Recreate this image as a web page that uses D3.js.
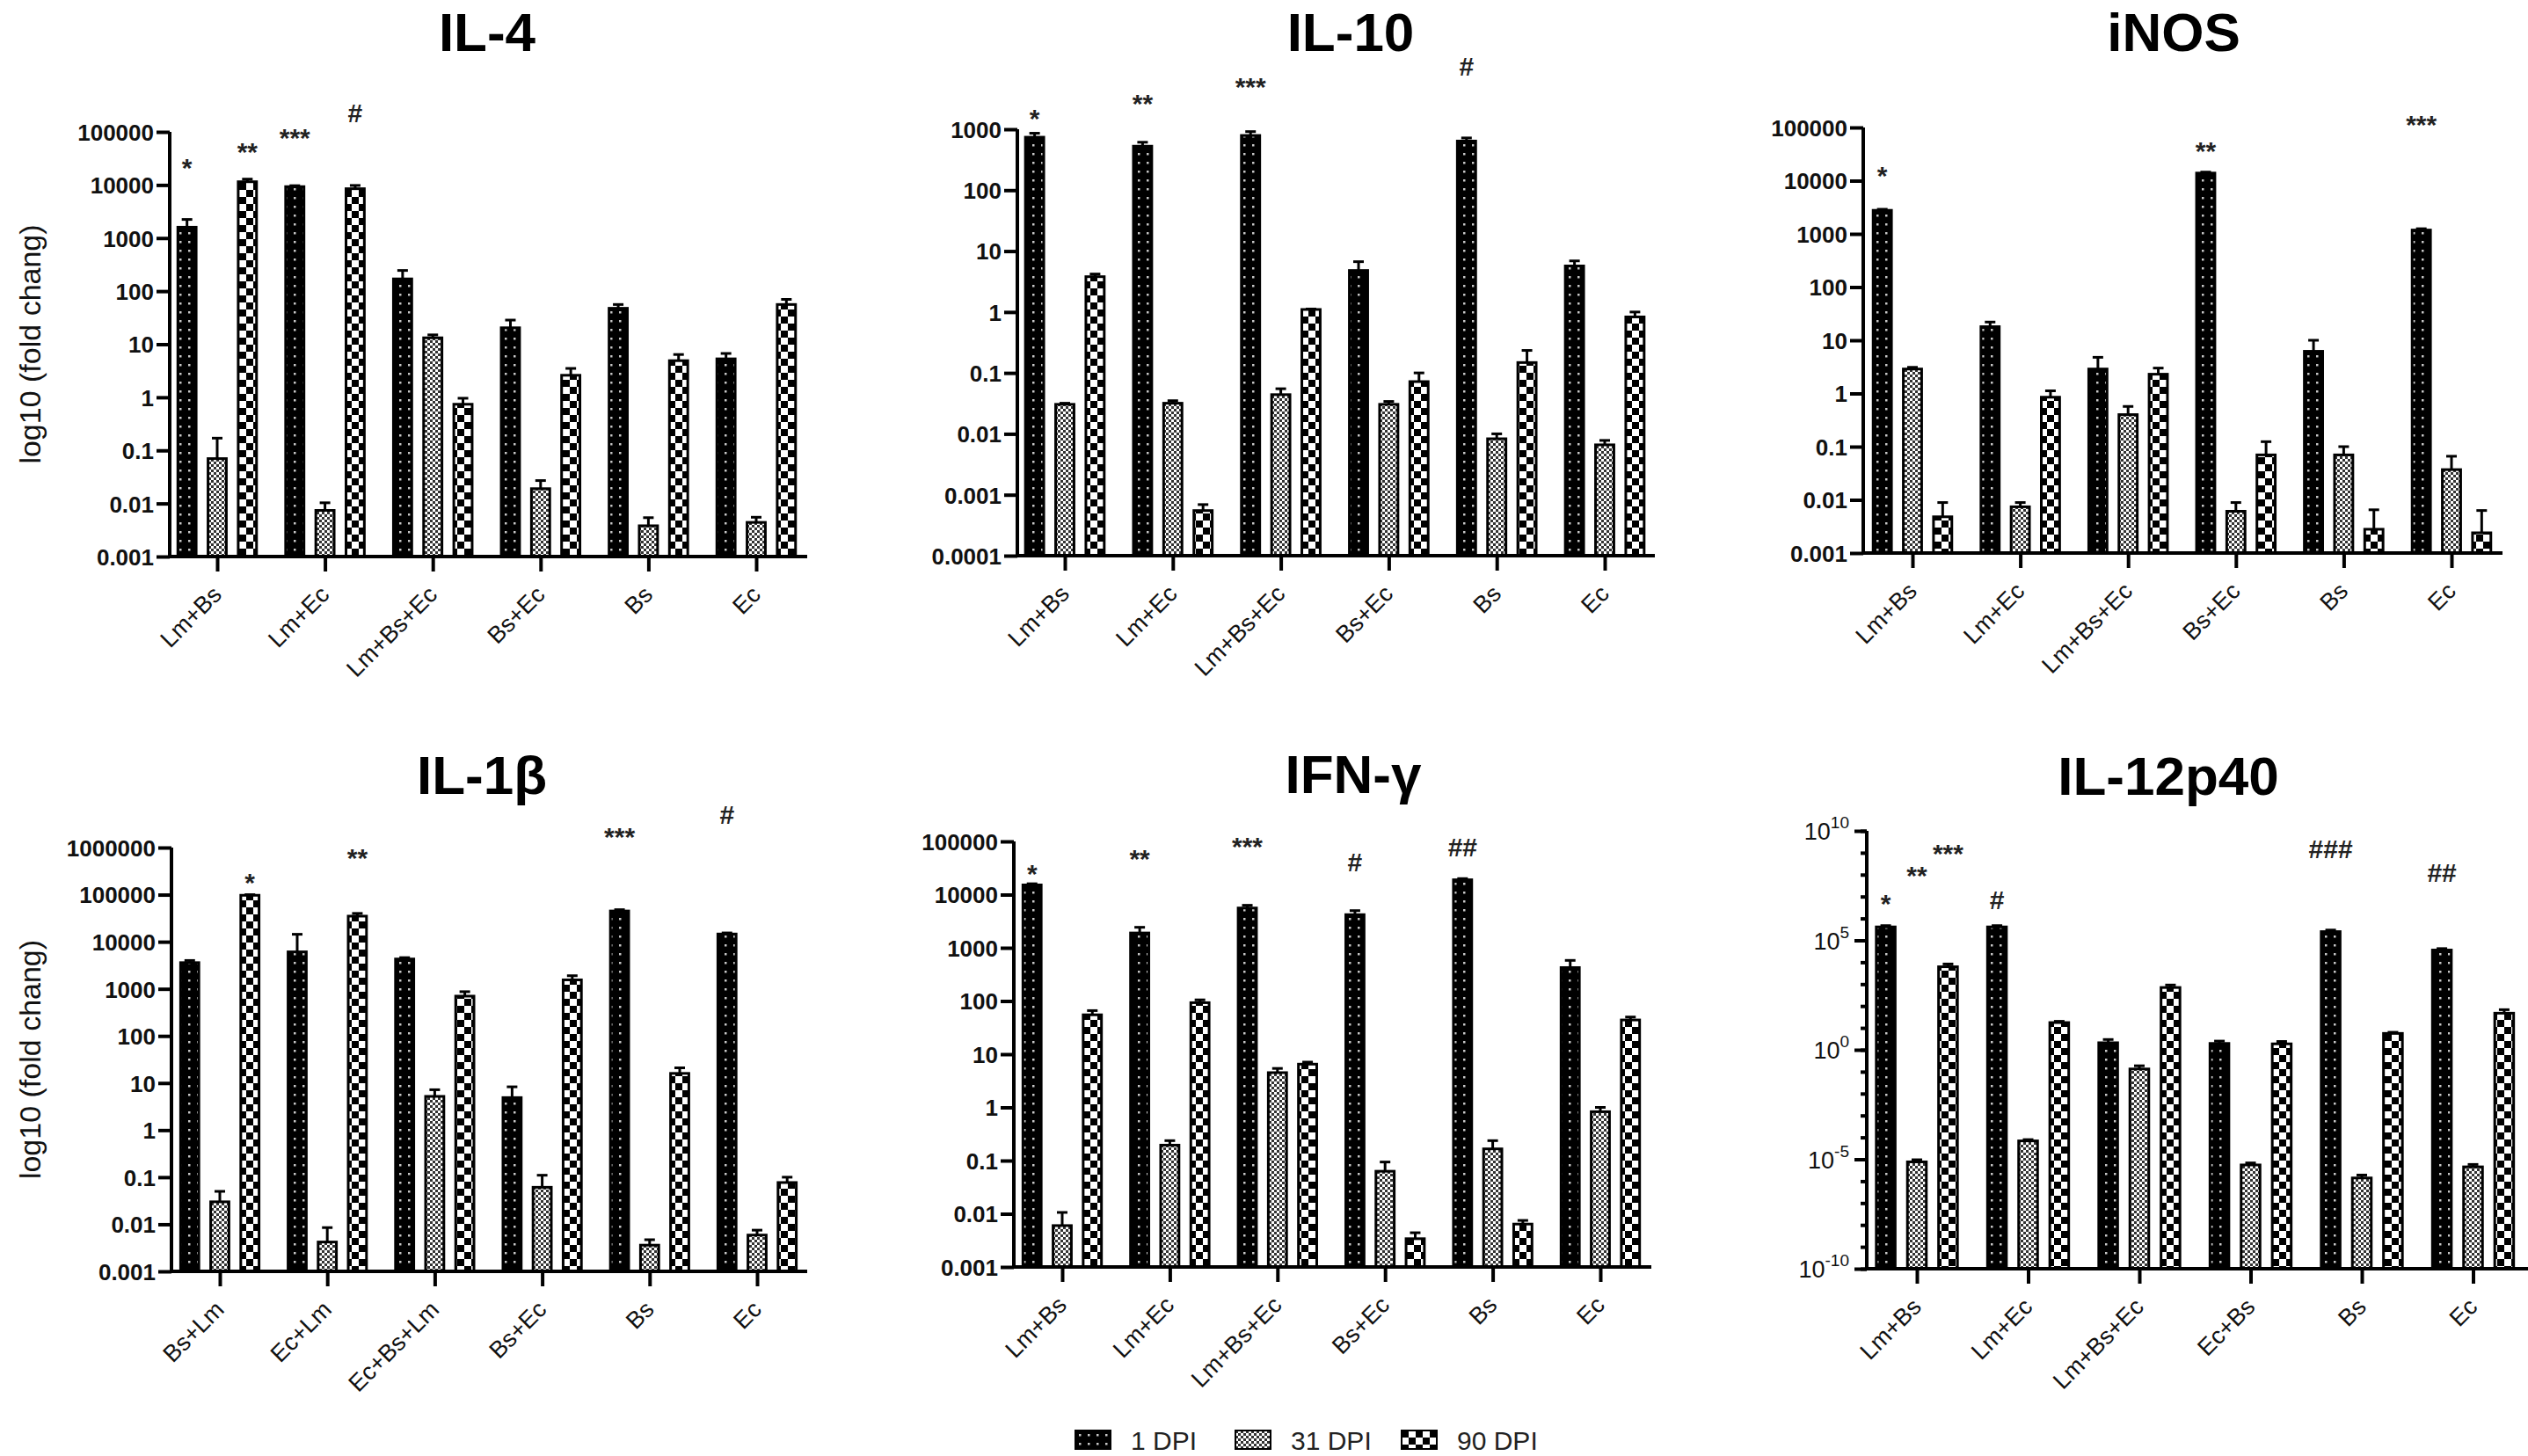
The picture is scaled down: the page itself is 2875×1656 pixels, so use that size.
<!DOCTYPE html>
<html>
<head>
<meta charset="utf-8">
<script src="https://cdn.jsdelivr.net/npm/d3@7"></script>
<style>
  body { margin: 0; background: #fff; }
  text { font-family: "Liberation Sans", Arial, sans-serif; fill: #111; }
</style>
</head>
<body>
<svg id="chart"></svg>
<script>
// ---- data ----
const seriesNames = ["1 DPI", "31 DPI", "90 DPI"];

const catsA    = ["Lm+Bs", "Lm+Ec", "Lm+Bs+Ec", "Bs+Ec", "Bs", "Ec"];
const catsIL1b = ["Bs+Lm", "Ec+Lm", "Ec+Bs+Lm", "Bs+Ec", "Bs", "Ec"];
const catsIL12 = ["Lm+Bs", "Lm+Ec", "Lm+Bs+Ec", "Ec+Bs", "Bs", "Ec"];

// means per series [1 DPI, 31 DPI, 90 DPI], and SD (upper error bar)
const il4Mean = [[1600, 9300, 170, 20.4, 47.5, 5.3],
                 [0.07, 0.0074, 13.2, 0.019, 0.0038, 0.0044],
                 [11500, 8500, 0.74, 2.6, 4.9, 56]];
const il4Sd   = [[640, 400, 75, 8.1, 8.5, 1.4],
                 [0.1, 0.0029, 1.8, 0.008, 0.0016, 0.0011],
                 [1400, 1300, 0.22, 0.9, 1.5, 14]];

const il10Mean = [[740, 527, 790, 4.8, 640, 5.7],
                  [0.0305, 0.0318, 0.044, 0.0305, 0.0083, 0.0066],
                  [3.8, 0.00055, 1.1, 0.072, 0.148, 0.83]];
const il10Sd   = [[120, 85, 125, 1.9, 80, 1.2],
                  [0.0013, 0.0032, 0.011, 0.0035, 0.0017, 0.0012],
                  [0.4, 0.00014, 0.02, 0.028, 0.086, 0.17]];

const inosMean = [[2770, 18, 2.88, 13900, 6.2, 1180],
                  [2.88, 0.0074, 0.4, 0.0061, 0.07, 0.037],
                  [0.0048, 0.85, 2.3, 0.07, 0.0028, 0.0024]];
const inosSd   = [[130, 4, 1.9, 600, 3.8, 70],
                  [0.22, 0.0015, 0.17, 0.0028, 0.03, 0.029],
                  [0.0041, 0.27, 0.7, 0.054, 0.0037, 0.0039]];

const il1bMean = [[3600, 6100, 4300, 4.9, 45000, 14600],
                  [0.03, 0.0042, 5.2, 0.061, 0.0036, 0.0059],
                  [97000, 35000, 700, 1550, 16, 0.077]];
const il1bSd   = [[400, 8300, 300, 3.4, 3000, 800],
                  [0.02, 0.0043, 2.0, 0.049, 0.0011, 0.0016],
                  [3000, 5000, 170, 350, 5, 0.023]];

const ifngMean = [[15200, 1900, 5600, 4200, 19000, 425],
                  [0.006, 0.195, 4.5, 0.063, 0.166, 0.83],
                  [55, 93, 6.5, 0.0034, 0.0064, 44]];
const ifngSd   = [[800, 530, 700, 800, 1000, 155],
                  [0.0046, 0.042, 0.9, 0.031, 0.071, 0.17],
                  [11, 12, 0.6, 0.001, 0.0011, 6]];

const il12Mean = [[4.1e5, 4.1e5, 2.1, 1.95, 2.5e5, 3.6e4],
                  [7.6e-6, 6.9e-5, 0.133, 5.5e-6, 1.4e-6, 4.5e-6],
                  [6200, 17.5, 700, 1.87, 5.6, 47]];
const il12Sd   = [[6e4, 6e4, 0.85, 0.55, 4.5e4, 6e3],
                  [1.9e-6, 1e-5, 0.053, 1.3e-6, 5e-7, 1.3e-6],
                  [2100, 2.5, 210, 0.53, 0.7, 21]];

// significance marks: [label, category index, series index, value level]
const il4Marks  = [["*", 0, 0, 2.8e4], ["**", 0, 2, 5.5e4], ["***", 1, 0, 1e5], ["#", 1, 2, 2.3e5]];
const il10Marks = [["*", 0, 0, 1900], ["**", 1, 0, 3300], ["***", 2, 0, 6200], ["#", 4, 0, 10700]];
const inosMarks = [["*", 0, 0, 1.66e4], ["**", 3, 0, 4.8e4], ["***", 5, 0, 1.5e5]];
const il1bMarks = [["*", 0, 2, 2.5e5], ["**", 1, 2, 8.1e5], ["***", 4, 0, 2.3e6], ["#", 5, 0, 5e6]];
const ifngMarks = [["*", 0, 0, 3.2e4], ["**", 1, 0, 6.3e4], ["***", 2, 0, 1.05e5], ["#", 3, 0, 4.2e4], ["##", 4, 0, 7.8e4]];
const il12Marks = [["*", 0, 0, 9e6], ["**", 0, 1, 1.8e8], ["***", 0, 2, 1.8e9], ["#", 1, 0, 7.4e6], ["###", 4, 0, 1.5e9], ["##", 5, 0, 1.3e8]];

// tick labels
const ticks5  = [0.001, 0.01, 0.1, 1, 10, 100, 1000, 10000, 100000];
const ticks10 = [0.0001, 0.001, 0.01, 0.1, 1, 10, 100, 1000];
const ticks1b = [0.001, 0.01, 0.1, 1, 10, 100, 1000, 10000, 100000, 1000000];
const ticks12Exp = [-10, -5, 0, 5, 10];

// ---- layout ----
const W = 2875, H = 1656;
const panels = [
  { title: "IL-4", cats: catsA, mean: il4Mean, sd: il4Sd, marks: il4Marks, ticks: ticks5,
    left: 193, right: 918, top: 150, bottom: 633, first: 247, step: 122.6, titleX: 554, titleY: 58, ylabel: true },
  { title: "IL-10", cats: catsA, mean: il10Mean, sd: il10Sd, marks: il10Marks, ticks: ticks10,
    left: 1157, right: 1882, top: 147, bottom: 632, first: 1211, step: 122.8, titleX: 1536, titleY: 58 },
  { title: "iNOS", cats: catsA, mean: inosMean, sd: inosSd, marks: inosMarks, ticks: ticks5,
    left: 2119, right: 2846, top: 145, bottom: 629, first: 2175, step: 122.6, titleX: 2472, titleY: 58 },
  { title: "IL-1β", cats: catsIL1b, mean: il1bMean, sd: il1bSd, marks: il1bMarks, ticks: ticks1b,
    left: 195, right: 918, top: 964, bottom: 1446, first: 250, step: 122.2, titleX: 548, titleY: 903, ylabel: true },
  { title: "IFN-γ", cats: catsA, mean: ifngMean, sd: ifngSd, marks: ifngMarks, ticks: ticks5,
    left: 1153, right: 1878, top: 957, bottom: 1441, first: 1208, step: 122.4, titleX: 1539, titleY: 902 },
  { title: "IL-12p40", cats: catsIL12, mean: il12Mean, sd: il12Sd, marks: il12Marks, expTicks: ticks12Exp,
    left: 2123, right: 2875, top: 945, bottom: 1443, first: 2180, step: 126.5, titleX: 2466, titleY: 904 }
];

const svg = d3.select("#chart").attr("width", W).attr("height", H);
svg.append("rect").attr("width", W).attr("height", H).attr("fill", "#fff");

// ---- fill patterns ----
const defs = svg.append("defs");
const p1 = defs.append("pattern").attr("id", "pat0").attr("patternUnits", "userSpaceOnUse")
  .attr("width", 10).attr("height", 10);
p1.append("rect").attr("width", 10).attr("height", 10).attr("fill", "#000");
p1.append("rect").attr("x", 4).attr("y", 4).attr("width", 2.5).attr("height", 2.5).attr("fill", "#c8c8c8");

const p2 = defs.append("pattern").attr("id", "pat1").attr("patternUnits", "userSpaceOnUse")
  .attr("width", 6).attr("height", 6);
p2.append("rect").attr("width", 6).attr("height", 6).attr("fill", "#fff");
p2.append("rect").attr("width", 3).attr("height", 3).attr("fill", "#333");
p2.append("rect").attr("x", 3).attr("y", 3).attr("width", 3).attr("height", 3).attr("fill", "#333");

const p3 = defs.append("pattern").attr("id", "pat2").attr("patternUnits", "userSpaceOnUse")
  .attr("width", 16).attr("height", 16);
p3.append("rect").attr("width", 16).attr("height", 16).attr("fill", "#fff");
p3.append("rect").attr("width", 8).attr("height", 8).attr("fill", "#000");
p3.append("rect").attr("x", 8).attr("y", 8).attr("width", 8).attr("height", 8).attr("fill", "#000");

function drawPanel(p) {
  const g = svg.append("g");
  const x = d3.scalePoint().domain(p.cats).range([p.first, p.first + (p.cats.length - 1) * p.step]);
  const dom = p.expTicks
    ? [Math.pow(10, d3.min(p.expTicks)), Math.pow(10, d3.max(p.expTicks))]
    : d3.extent(p.ticks);
  const y = d3.scaleLog().domain(dom).range([p.bottom, p.top]);
  const off = s => (s - 1) * p.step * 0.28;
  const bw = p.step * 0.17;

  const rows = [];
  p.mean.forEach((arr, s) => arr.forEach((v, i) => rows.push({ cat: p.cats[i], s: s, v: v, sd: p.sd[s][i] })));

  // bars
  g.selectAll("rect.bar").data(rows).enter().append("rect")
    .attr("class", "bar")
    .attr("x", d => x(d.cat) + off(d.s) - bw / 2)
    .attr("y", d => y(d.v))
    .attr("width", bw)
    .attr("height", d => p.bottom - y(d.v))
    .attr("fill", d => `url(#pat${d.s})`)
    .attr("stroke", "#000")
    .attr("stroke-width", 3);

  // error bars (upper)
  const eb = g.selectAll("g.err").data(rows).enter().append("g").attr("class", "err")
    .attr("stroke", "#000").attr("stroke-width", 3);
  eb.append("line")
    .attr("x1", d => x(d.cat) + off(d.s)).attr("x2", d => x(d.cat) + off(d.s))
    .attr("y1", d => y(d.v)).attr("y2", d => y(d.v + d.sd));
  eb.append("line")
    .attr("x1", d => x(d.cat) + off(d.s) - 6).attr("x2", d => x(d.cat) + off(d.s) + 6)
    .attr("y1", d => y(d.v + d.sd)).attr("y2", d => y(d.v + d.sd));

  // y axis
  const ya = g.append("g").attr("transform", `translate(${p.left},0)`);
  if (p.expTicks) {
    const minor = d3.range(d3.min(p.expTicks), d3.max(p.expTicks) + 1).map(e => Math.pow(10, e));
    ya.call(d3.axisLeft(y).tickValues(minor).tickSize(7).tickSizeOuter(0).tickFormat(""));
    const major = p.expTicks.map(e => Math.pow(10, e));
    ya.call(g2 => g2.append("g").call(d3.axisLeft(y).tickValues(major).tickSize(14).tickSizeOuter(0).tickFormat(""))
      .call(a => a.select(".domain").remove()));
    const lab = ya.selectAll("text.exp").data(p.expTicks).enter().append("text")
      .attr("class", "exp")
      .attr("x", -20).attr("y", e => y(Math.pow(10, e)) + 10)
      .attr("text-anchor", "end")
      .style("font-size", "27px");
    lab.append("tspan").text("10");
    lab.append("tspan").attr("dy", -13).style("font-size", "19px").text(e => String(e));
  } else {
    ya.call(d3.axisLeft(y).tickValues(p.ticks).tickSize(15).tickSizeOuter(0)
      .tickFormat(d => String(d)));
    ya.selectAll(".tick text")
      .style("font-size", "26px").style("font-weight", "bold")
      .attr("x", -18).attr("dy", "0.36em");
  }
  ya.selectAll("path, line").attr("stroke", "#000").attr("stroke-width", 4);
  ya.select(".domain").attr("d", `M0,${p.top}V${p.bottom + 2}`);

  // x axis
  const xa = g.append("g").attr("transform", `translate(0,${p.bottom})`)
    .call(d3.axisBottom(x).tickSize(17).tickSizeOuter(0));
  xa.select(".domain").attr("d", `M${p.left - 2},0H${p.right}`);
  xa.selectAll("path, line").attr("stroke", "#000").attr("stroke-width", 4);
  xa.selectAll(".tick text")
    .attr("x", 0).attr("y", 0).attr("dy", 0)
    .attr("text-anchor", "end")
    .attr("transform", "translate(6,45) rotate(-45)")
    .style("font-size", "27px");

  // significance marks
  g.selectAll("text.mark").data(p.marks).enter().append("text")
    .attr("class", "mark")
    .attr("x", d => x(p.cats[d[1]]) + off(d[2]))
    .attr("y", d => y(d[3]) + (d[0][0] === "*" ? 0.58 : 0.36) * 30)
    .attr("text-anchor", "middle")
    .style("font-size", "30px").style("font-weight", "bold")
    .style("fill", "#222")
    .text(d => d[0]);

  // title
  g.append("text")
    .attr("x", p.titleX).attr("y", p.titleY)
    .attr("text-anchor", "middle")
    .style("font-size", "62px").style("font-weight", "bold").style("fill", "#000")
    .text(p.title);

  if (p.ylabel) {
    g.append("text")
      .attr("transform", `translate(34,${(p.top + p.bottom) / 2}) rotate(-90)`)
      .attr("text-anchor", "middle")
      .attr("dominant-baseline", "central")
      .style("font-size", "34px")
      .text("log10 (fold chang)");
  }
}

panels.forEach(drawPanel);

// ---- legend ----
const legendX = [1223, 1405, 1594];
const leg = svg.append("g").selectAll("g").data(seriesNames).enter().append("g")
  .attr("transform", (d, i) => `translate(${legendX[i]},1627)`);
leg.append("rect").attr("width", 40).attr("height", 21)
  .attr("fill", (d, i) => `url(#pat${i})`).attr("stroke", "#000").attr("stroke-width", 2);
leg.append("text").attr("x", 63).attr("y", 22)
  .style("font-size", "30px").style("fill", "#222")
  .text(d => d);
</script>
</body>
</html>
